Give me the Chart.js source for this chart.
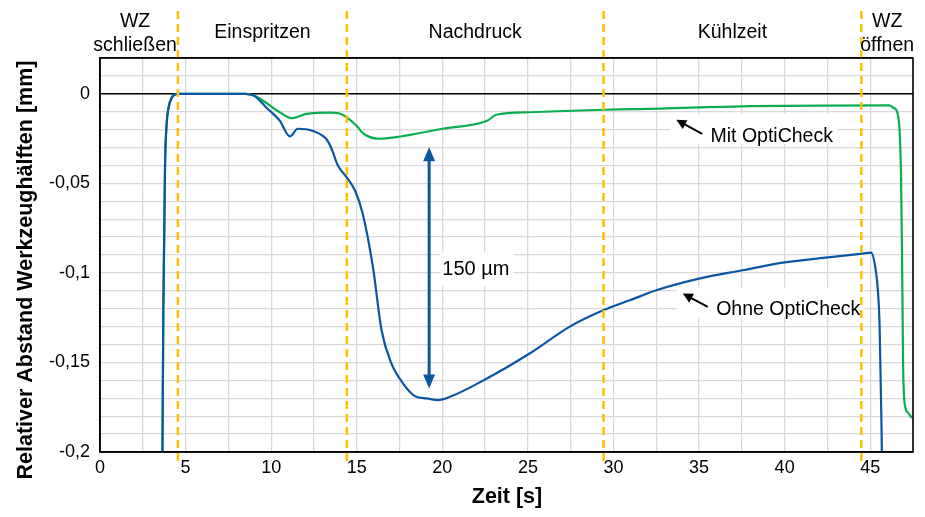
<!DOCTYPE html>
<html>
<head>
<meta charset="utf-8">
<script src="https://cdn.jsdelivr.net/npm/chart.js@4/dist/chart.umd.min.js"></script>
<style>
  html, body { margin: 0; padding: 0; background: #fff; }
  #wrap { width: 925px; height: 517px; position: relative; }
</style>
</head>
<body>
<div id="wrap"><canvas id="c"></canvas></div>
<script>
// values
const ohneTime = [3.65, 3.70, 3.80, 3.90, 4.0, 4.2, 4.55, 8.5, 9.0, 9.7, 10.5, 11.1, 11.55, 12.45, 13.2, 13.5, 13.9, 14.4, 14.9, 15.35, 15.95, 16.45, 17.0, 17.7, 18.4, 19.1, 19.75, 20.45, 22.6, 25.1, 27.45, 29.4, 30.95, 32.5, 35.0, 37.55, 39.9, 42.4, 44.55, 45.05, 45.3, 45.45, 45.55, 45.65, 45.68];
const ohneValue = [-0.2, -0.12, -0.04, -0.016, -0.008, -0.002, 0, 0, -0.001, -0.0075, -0.015, -0.0238, -0.0195, -0.0208, -0.025, -0.03, -0.04, -0.0465, -0.054, -0.067, -0.097, -0.132, -0.15, -0.1617, -0.1688, -0.1701, -0.171, -0.1692, -0.159, -0.145, -0.13, -0.1209, -0.1153, -0.1097, -0.1032, -0.0985, -0.0943, -0.0915, -0.0892, -0.0887, -0.097, -0.11, -0.13, -0.18, -0.2];

const mitTime = [3.65, 3.70, 3.80, 3.90, 4.0, 4.2, 4.55, 8.5, 9.0, 9.7, 10.5, 11.2, 12.05, 13.4, 14.0, 14.4, 15.0, 15.4, 16.35, 17.3, 20.0, 22.65, 23.15, 25.1, 29.4, 31.0, 37.0, 46.1, 46.4, 46.6, 46.8, 46.87, 46.92, 47.0, 47.2, 47.45];
const mitValue = [-0.2, -0.12, -0.04, -0.016, -0.008, -0.002, 0, 0, -0.001, -0.005, -0.0103, -0.0136, -0.0112, -0.0105, -0.011, -0.013, -0.018, -0.0223, -0.0251, -0.0242, -0.0195, -0.0149, -0.0117, -0.0103, -0.0089, -0.0086, -0.0071, -0.0065, -0.008, -0.011, -0.045, -0.1, -0.15, -0.172, -0.178, -0.181];

const phaseBounds = [4.55, 14.42, 29.42, 44.48];
const phaseNames = [['WZ', 'schließen'], ['Einspritzen'], ['Nachdruck'], ['Kühlzeit'], ['WZ', 'öffnen']];
const phaseCenters = [2.05, 9.49, 21.92, 36.95, 45.99];

const xTicks = [0, 5, 10, 15, 20, 25, 30, 35, 40, 45];
const yTicks = [0, -0.05, -0.1, -0.15, -0.2];

const BLUE = '#0b56a3';
const GREEN = '#0bae4f';
const ORANGE = '#ffc000';
const FONT = '"Liberation Sans", Arial, sans-serif';

function pairs(t, v) { return t.map((x, i) => ({ x: x, y: v[i] })); }

function arrowHead(ctx, x1, y1, x2, y2, len, half) {
  const a = Math.atan2(y2 - y1, x2 - x1);
  ctx.beginPath();
  ctx.moveTo(x2, y2);
  ctx.lineTo(x2 - len * Math.cos(a) + half * Math.sin(a), y2 - len * Math.sin(a) - half * Math.cos(a));
  ctx.lineTo(x2 - len * Math.cos(a) - half * Math.sin(a), y2 - len * Math.sin(a) + half * Math.cos(a));
  ctx.closePath();
  ctx.fill();
}

// labels with small arrows pointing at the curves
const notes = [
  { text: 'Mit OptiCheck', x: 35.67, y: -0.0238, from: [35.18, -0.0223], to: [33.67, -0.0145] },
  { text: 'Ohne OptiCheck', x: 36.0, y: -0.1203, from: [35.51, -0.119], to: [34.05, -0.1115] }
];

const overlay = {
  id: 'overlay',
  beforeDatasetsDraw(chart) {
    const { ctx, scales: { x, y } } = chart;
    ctx.save();
    ctx.font = '19.5px ' + FONT;
    ctx.fillStyle = '#fff';
    notes.forEach(n => {
      const w = ctx.measureText(n.text).width;
      const tx = x.getPixelForValue(n.to[0]) - 6;
      const ty = y.getPixelForValue(n.y);
      ctx.fillRect(tx, Math.min(ty - 15, y.getPixelForValue(n.to[1]) - 6), x.getPixelForValue(n.x) + w + 4 - tx, 30);
    });
    const bx = x.getPixelForValue(20.0), by = y.getPixelForValue(-0.098);
    ctx.font = '20px ' + FONT;
    ctx.fillRect(bx - 2, by - 17, ctx.measureText('150 µm').width + 6, 34);
    ctx.restore();
  },
  afterDatasetsDraw(chart) {
    const { ctx, chartArea: ca, scales: { x, y } } = chart;
    ctx.save();

    // double arrow 150 µm
    const ax = x.getPixelForValue(19.23);
    const aTop = y.getPixelForValue(-0.0298), aBot = y.getPixelForValue(-0.1645);
    ctx.strokeStyle = BLUE; ctx.fillStyle = BLUE; ctx.lineWidth = 3;
    ctx.beginPath(); ctx.moveTo(ax, aTop + 10); ctx.lineTo(ax, aBot - 10); ctx.stroke();
    arrowHead(ctx, ax, aTop + 20, ax, aTop, 14, 6);
    arrowHead(ctx, ax, aBot - 20, ax, aBot, 14, 6);

    ctx.fillStyle = '#000';
    ctx.textBaseline = 'middle';
    ctx.textAlign = 'left';
    ctx.font = '20px ' + FONT;
    ctx.fillText('150 µm', x.getPixelForValue(20.0), y.getPixelForValue(-0.098));

    ctx.font = '19.5px ' + FONT;
    ctx.strokeStyle = '#000'; ctx.lineWidth = 2;
    notes.forEach(n => {
      ctx.fillText(n.text, x.getPixelForValue(n.x), y.getPixelForValue(n.y));
      const x1 = x.getPixelForValue(n.from[0]), y1 = y.getPixelForValue(n.from[1]);
      const x2 = x.getPixelForValue(n.to[0]), y2 = y.getPixelForValue(n.to[1]);
      const a = Math.atan2(y2 - y1, x2 - x1);
      ctx.beginPath(); ctx.moveTo(x1, y1); ctx.lineTo(x2 - 6 * Math.cos(a), y2 - 6 * Math.sin(a)); ctx.stroke();
      arrowHead(ctx, x1, y1, x2, y2, 10, 5);
    });

    // phase boundaries
    ctx.strokeStyle = ORANGE; ctx.lineWidth = 2.5;
    ctx.setLineDash([8, 5]);
    phaseBounds.forEach(b => {
      const px = x.getPixelForValue(b);
      ctx.beginPath(); ctx.moveTo(px, 11); ctx.lineTo(px, ca.bottom + 12); ctx.stroke();
    });
    ctx.setLineDash([]);

    // frame
    ctx.strokeStyle = '#000'; ctx.lineWidth = 1.6;
    ctx.strokeRect(ca.left, ca.top, ca.right - ca.left, ca.bottom - ca.top);
    ctx.restore();
  },
  afterDraw(chart) {
    const { ctx, scales: { x } } = chart;
    ctx.save();
    ctx.fillStyle = '#000';
    ctx.textAlign = 'center';
    ctx.textBaseline = 'middle';
    ctx.font = '19.5px ' + FONT;
    phaseNames.forEach((lines, i) => {
      const px = x.getPixelForValue(phaseCenters[i]);
      if (lines.length === 2) {
        ctx.fillText(lines[0], px, 22);
        ctx.fillText(lines[1], px, 46);
      } else {
        ctx.fillText(lines[0], px, 33);
      }
    });
    ctx.font = 'bold 21.5px ' + FONT;
    ctx.fillText('Zeit [s]', 507, 497);
    ctx.translate(26, 270);
    ctx.rotate(-Math.PI / 2);
    ctx.fillText('Relativer Abstand Werkzeughälften [mm]', 0, 0);
    ctx.restore();
  }
};

const near = (v, list) => list.some(t => Math.abs(v - t) < 1e-6);

new Chart(document.getElementById('c'), {
  type: 'line',
  data: {
    datasets: [
      { label: 'Ohne OptiCheck', data: pairs(ohneTime, ohneValue), borderColor: BLUE, borderWidth: 2.2, pointRadius: 0, cubicInterpolationMode: 'monotone', fill: false },
      { label: 'Mit OptiCheck', data: pairs(mitTime, mitValue), borderColor: GREEN, borderWidth: 2.2, pointRadius: 0, cubicInterpolationMode: 'monotone', fill: false }
    ]
  },
  options: {
    responsive: true,
    maintainAspectRatio: false,
    animation: false,
    layout: { padding: { top: 58, right: 12, left: 0, bottom: 0 } },
    plugins: { legend: { display: false }, tooltip: { enabled: false } },
    scales: {
      x: {
        type: 'linear', min: 0, max: 47.5,
        afterFit: s => { s.height = 65; },
        border: { color: '#000', width: 1.6 },
        grid: { color: '#d9d9d9', lineWidth: 1.3, drawTicks: false },
        ticks: {
          stepSize: 2.5, autoSkip: false, maxRotation: 0, padding: 5, color: '#000',
          font: { family: FONT, size: 18 },
          callback: v => near(v, xTicks) ? String(v) : ''
        }
      },
      y: {
        type: 'linear', min: -0.2, max: 0.02,
        afterFit: s => { s.width = 100; },
        border: { color: '#000', width: 1.6 },
        grid: {
          drawTicks: false,
          color: c => (Math.abs(c.tick.value) < 1e-6 || Math.abs(c.tick.value - 0.02) < 1e-6) ? '#000' : '#d9d9d9',
          lineWidth: c => Math.abs(c.tick.value) < 1e-6 ? 1.6 : 1.3
        },
        ticks: {
          stepSize: 0.01, autoSkip: false, padding: 10, color: '#000',
          font: { family: FONT, size: 18 },
          callback: v => near(v, yTicks) ? String(Number(v.toFixed(2))).replace('.', ',') : ''
        }
      }
    }
  },
  plugins: [overlay]
});
</script>
</body>
</html>
